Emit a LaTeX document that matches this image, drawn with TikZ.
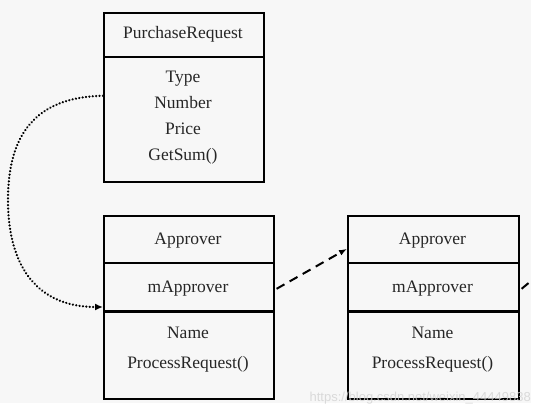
\documentclass[tikz,border=0pt]{standalone}
\usepackage{fontspec}
\setmainfont{Liberation Serif}
\newfontfamily\wmfont{Liberation Sans}
\usetikzlibrary{arrows.meta}
\definecolor{bgc}{HTML}{F7F7F7}
\tikzset{
  cell/.style={draw, line width=1.6pt, inner sep=0pt, anchor=north west},
  lbl/.style={inner sep=0pt, anchor=base, font=\fontsize{17.5}{20}\selectfont, text=black!85},
  dotarrow/.style={line width=2.4pt, dash pattern=on 0.1pt off 3.3pt, line cap=round, -{Latex[length=8pt,width=7pt]}},
  dasharrow/.style={line width=2pt, dash pattern=on 9pt off 6pt, -{Latex[length=8pt,width=6pt]}},
  dashline/.style={line width=2pt, dash pattern=on 9pt off 6pt},
}
\begin{document}
\begin{tikzpicture}[x=1pt,y=-1pt]
\useasboundingbox (0,0) rectangle (543,415);
\fill[bgc] (0,0) rectangle (531,403);
% PurchaseRequest
\node[cell, minimum width=160pt, minimum height=44pt] (prh) at (103,12) {};
\node[cell, minimum width=160pt, minimum height=125pt] (prb) at (103,56) {};
\node[lbl] (t1) at (183,38) {PurchaseRequest};
\node[lbl] (t2) at (183,82) {Type};
\node[lbl] (t3) at (183,108) {Number};
\node[lbl] (t4) at (183,134) {Price};
\node[lbl] (t5) at (183,160) {GetSum()};
% Approver 1
\node[cell, minimum width=170pt, minimum height=47pt] (a1h) at (103,215) {};
\node[cell, minimum width=170pt, minimum height=49pt] (a1m) at (103,262) {};
\node[cell, minimum width=170pt, minimum height=87pt] (a1b) at (103,311) {};
\draw[line width=2.6pt] (a1b.north west) -- (a1b.north east);
\node[lbl] (u1) at (188,244) {Approver};
\node[lbl] (u2) at (188,292) {mApprover};
\node[lbl] (u3) at (188,338) {Name};
\node[lbl] (u4) at (188,368) {ProcessRequest()};
% Approver 2
\node[cell, minimum width=171pt, minimum height=47pt] (a2h) at (347,215) {};
\node[cell, minimum width=171pt, minimum height=49pt] (a2m) at (347,262) {};
\node[cell, minimum width=171pt, minimum height=87pt] (a2b) at (347,311) {};
\draw[line width=2.6pt] (a2b.north west) -- (a2b.north east);
\node[lbl] (v1) at (432.5,244) {Approver};
\node[lbl] (v2) at (432.5,292) {mApprover};
\node[lbl] (v3) at (432.5,338) {Name};
\node[lbl] (v4) at (432.5,368) {ProcessRequest()};
% connectors
\coordinate (ds) at ([yshift=23.5pt]prb.west);
\coordinate (de) at ([yshift=4pt]a1b.north west);
\draw[dotarrow] (ds) .. controls (35,97) and (8,135) .. (8,200) .. controls (8,270) and (40,307) .. (de);
\coordinate (e1) at ([yshift=-1.5pt]a1m.east);
\coordinate (e2) at ([yshift=-9.5pt]a2h.west);
\draw[dasharrow] ([xshift=2pt]e1) -- (e2);
\coordinate (e3) at ([yshift=-1.5pt]a2m.east);
\coordinate (off) at (531,281);
\draw[dashline] ([xshift=2pt]e3) -- (off);
% watermark
\node[anchor=south east, inner sep=0pt, font=\wmfont\fontsize{13}{13}\selectfont, text=gray!35, opacity=0.8] (wm) at (531,404) {https://blog.csdn.net/weixin\_44449838};
\end{tikzpicture}
\end{document}
